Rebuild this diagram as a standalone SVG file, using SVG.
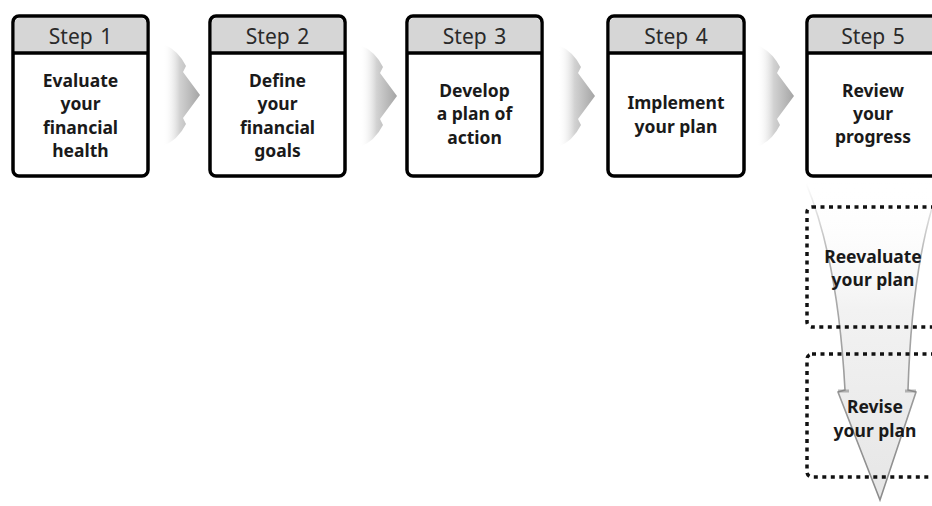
<svg xmlns="http://www.w3.org/2000/svg" width="932" height="506" viewBox="0 0 932 506">
<defs>
<style>
.box{fill:#fff;stroke:#000;stroke-width:3.5}
.hdr{fill:#d6d6d6}
.div{stroke:#000;stroke-width:3.5}
.htxt{font-family:"Noto Sans","Open Sans","DejaVu Sans",sans-serif;font-size:21px;word-spacing:2px;fill:#2a2a2a;text-anchor:middle}
.btxt{font-family:"Noto Sans","Open Sans","DejaVu Sans",sans-serif;font-size:17.5px;font-weight:bold;fill:#1a1a1a;text-anchor:middle}
.dash{fill:none;stroke:#111;stroke-width:3.5;stroke-dasharray:4 4.5}
.chev{fill:url(#chevGrad)}
</style>
<linearGradient id="chevGrad" x1="0" y1="0" x2="1" y2="0">
<stop offset="0" stop-color="#ffffff" stop-opacity="0"/>
<stop offset="0.45" stop-color="#d2d2d2"/>
<stop offset="1" stop-color="#a4a4a4"/>
</linearGradient>
<linearGradient id="funFill" gradientUnits="userSpaceOnUse" x1="0" y1="183" x2="0" y2="500">
<stop offset="0" stop-color="#ffffff" stop-opacity="0"/>
<stop offset="0.4" stop-color="#f2f2f2"/>
<stop offset="1" stop-color="#e6e6e6"/>
</linearGradient>
<linearGradient id="funStroke" gradientUnits="userSpaceOnUse" x1="0" y1="183" x2="0" y2="500">
<stop offset="0" stop-color="#9a9a9a" stop-opacity="0"/>
<stop offset="0.25" stop-color="#a6a6a6" stop-opacity="0.9"/>
<stop offset="1" stop-color="#8a8a8a"/>
</linearGradient>
<path id="chevron" d="M0 0 Q15 6 23 22 L20 28 L37 51 L20 74 L23 80 Q15 96 0 102 Z"/>
</defs>
<rect width="932" height="506" fill="#fff"/>
<g id="connectors">
<use href="#chevron" class="chev" x="163" y="44"/>
<use href="#chevron" class="chev" x="360" y="45"/>
<use href="#chevron" class="chev" x="558" y="45"/>
<use href="#chevron" class="chev" x="757" y="45"/>
<path id="funnel" d="M806 183 Q838 260 845 390 L838 392 L880 500 L916 392 L908 390 Q912 260 940 183 Z" fill="url(#funFill)" stroke="url(#funStroke)" stroke-width="1.6"/>
<path d="M838 391 L849 391 M905 391 L916 391" stroke="#777" stroke-width="3" opacity="0.5"/>
</g>
<g id="step1">
<rect class="box" x="13" y="16" width="135" height="160" rx="6"/>
<path class="hdr" d="M14.75 53 V23 a5 5 0 0 1 5-5 H141.25 a5 5 0 0 1 5 5 V53 Z"/>
<line class="div" x1="13" y1="53" x2="148" y2="53"/>
<text class="htxt" x="80.5" y="44">Step 1</text>
<text class="btxt" x="80.5" y="87">Evaluate</text>
<text class="btxt" x="80.5" y="110">your</text>
<text class="btxt" x="80.5" y="134">financial</text>
<text class="btxt" x="80.5" y="157">health</text>
</g>
<g id="step2">
<rect class="box" x="210" y="16" width="135" height="160" rx="6"/>
<path class="hdr" d="M211.75 53 V23 a5 5 0 0 1 5-5 H338.25 a5 5 0 0 1 5 5 V53 Z"/>
<line class="div" x1="210" y1="53" x2="345" y2="53"/>
<text class="htxt" x="277.5" y="44">Step 2</text>
<text class="btxt" x="277.5" y="87">Define</text>
<text class="btxt" x="277.5" y="110">your</text>
<text class="btxt" x="277.5" y="134">financial</text>
<text class="btxt" x="277.5" y="157">goals</text>
</g>
<g id="step3">
<rect class="box" x="407" y="16" width="135" height="160" rx="6"/>
<path class="hdr" d="M408.75 53 V23 a5 5 0 0 1 5-5 H535.25 a5 5 0 0 1 5 5 V53 Z"/>
<line class="div" x1="407" y1="53" x2="542" y2="53"/>
<text class="htxt" x="474.5" y="44">Step 3</text>
<text class="btxt" x="474.5" y="97">Develop</text>
<text class="btxt" x="474.5" y="120">a plan of</text>
<text class="btxt" x="474.5" y="144">action</text>
</g>
<g id="step4">
<rect class="box" x="608" y="16" width="136" height="160" rx="6"/>
<path class="hdr" d="M609.75 53 V23 a5 5 0 0 1 5-5 H737.25 a5 5 0 0 1 5 5 V53 Z"/>
<line class="div" x1="608" y1="53" x2="744" y2="53"/>
<text class="htxt" x="676" y="44">Step 4</text>
<text class="btxt" x="676" y="109">Implement</text>
<text class="btxt" x="676" y="133">your plan</text>
</g>
<g id="step5">
<rect class="box" x="807" y="16" width="136" height="160" rx="6"/>
<path class="hdr" d="M808.75 53 V23 a5 5 0 0 1 5-5 H936.25 a5 5 0 0 1 5 5 V53 Z"/>
<line class="div" x1="807" y1="53" x2="943" y2="53"/>
<text class="htxt" x="873" y="44">Step 5</text>
<text class="btxt" x="873" y="97">Review</text>
<text class="btxt" x="873" y="120">your</text>
<text class="btxt" x="873" y="143">progress</text>
</g>
<g id="reevaluate">
<rect class="dash" x="807" y="207" width="140" height="120" rx="5"/>
<text class="btxt" x="873" y="263">Reevaluate</text>
<text class="btxt" x="873" y="286">your plan</text>
</g>
<g id="revise">
<rect class="dash" x="807" y="354" width="140" height="123" rx="5"/>
<text class="btxt" x="875" y="413">Revise</text>
<text class="btxt" x="875" y="437">your plan</text>
</g>
</svg>
